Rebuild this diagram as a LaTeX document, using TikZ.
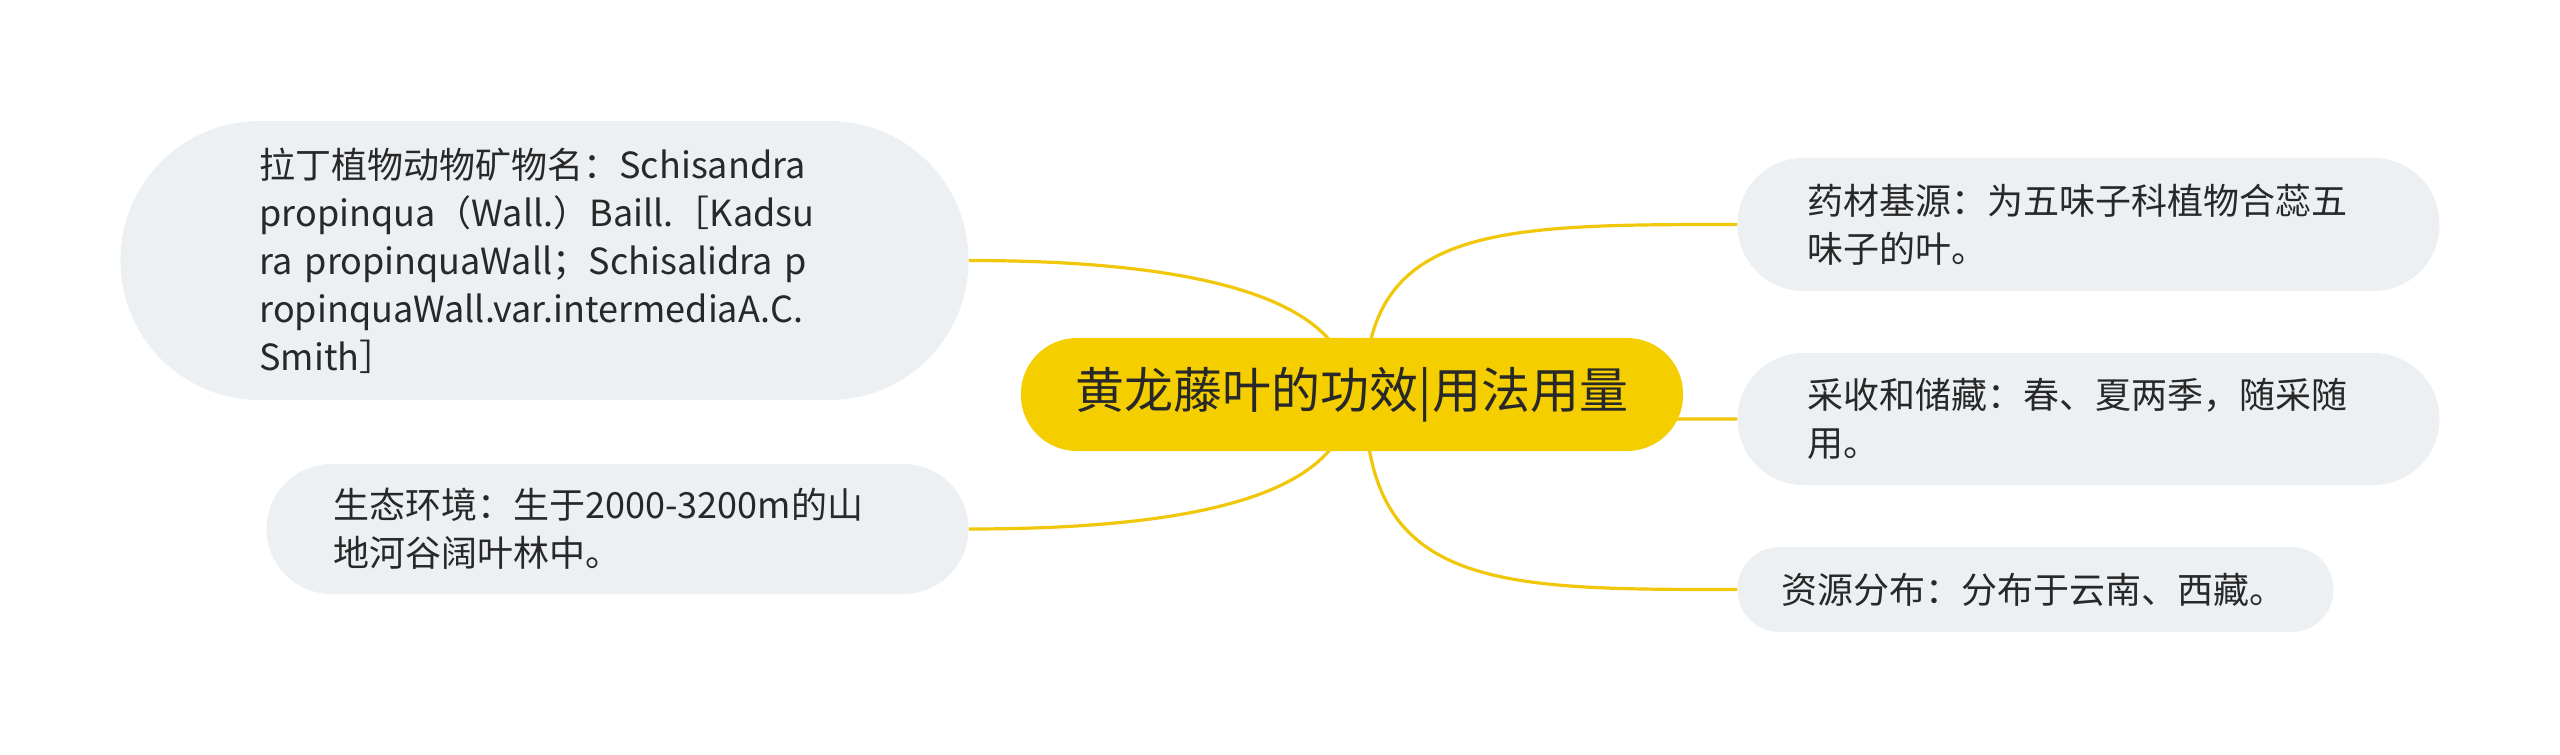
\documentclass[tikz,border=0pt]{standalone}
\usepackage{fontspec}
\setmainfont{Noto Sans CJK SC}
\usetikzlibrary{positioning, backgrounds}
\definecolor{rootyellow}{RGB}{245,206,0}
\definecolor{edgeyellow}{RGB}{240,199,10}
\definecolor{leafgray}{RGB}{237,240,243}
\definecolor{textgray}{RGB}{40,40,40}
\tikzstyle{root} = [rectangle, rounded corners=56pt, minimum height=113pt, inner xsep=55pt, fill=rootyellow, text=textgray, font=\fontsize{49}{56}\selectfont]
\tikzstyle{leaf} = [rectangle, fill=leafgray, text=textgray, align=left, inner ysep=6pt, font=\fontsize{36}{48}\selectfont]
\tikzstyle{edge} = [draw=edgeyellow, line width=3.2pt]

\begin{document}
\begin{tikzpicture}

\useasboundingbox (-1352pt,-360.5pt) rectangle (1208pt,394.5pt);

\node (root) [root] {黄龙藤叶的功效|用法用量};

\node (latin) [leaf, left=52pt of root, yshift=134pt, text width=570pt, inner xsep=139pt, minimum height=279pt, rounded corners=139pt] {拉丁植物动物矿物名：Schisandra\\propinqua（Wall.）Baill.［Kadsu\\ra propinquaWall；Schisalidra p\\ropinquaWall.var.intermediaA.C.\\Smith］};
\node (eco) [leaf, left=52pt of root, yshift=-134.5pt, text width=568pt, inner xsep=67pt, minimum height=130pt, rounded corners=65pt] {生态环境：生于2000-3200m的山\\地河谷阔叶林中。};

\node (src) [leaf, right=54pt of root, yshift=170pt, text width=562pt, inner xsep=70pt, minimum height=133pt, rounded corners=66pt] {药材基源：为五味子科植物合蕊五\\味子的叶。};
\node (harvest) [leaf, right=54pt of root, yshift=-24.5pt, text width=562pt, inner xsep=70pt, minimum height=132pt, rounded corners=66pt] {采收和储藏：春、夏两季，随采随\\用。};
\node (dist) [leaf, right=54pt of root, yshift=-195pt, text width=508pt, inner xsep=44pt, minimum height=85pt, rounded corners=42pt] {资源分布：分布于云南、西藏。};

\begin{scope}[on background layer]
\draw [edge] ([xshift=-2pt]root.center) .. controls +(0,104pt) and +(205pt,0) .. (latin.east);
\draw [edge] ([xshift=-2pt]root.center) .. controls +(0,-107pt) and +(205pt,0) .. (eco.east);
\draw [edge] ([xshift=13pt]root.center) .. controls +(0,170pt) and +(-238pt,0) .. (src.west);
\draw [edge] ([xshift=13pt]root.center) .. controls +(0,-25pt) and +(-238pt,0) .. (harvest.west);
\draw [edge] ([xshift=13pt]root.center) .. controls +(0,-196pt) and +(-238pt,0) .. (dist.west);
\end{scope}

\end{tikzpicture}
\end{document}
